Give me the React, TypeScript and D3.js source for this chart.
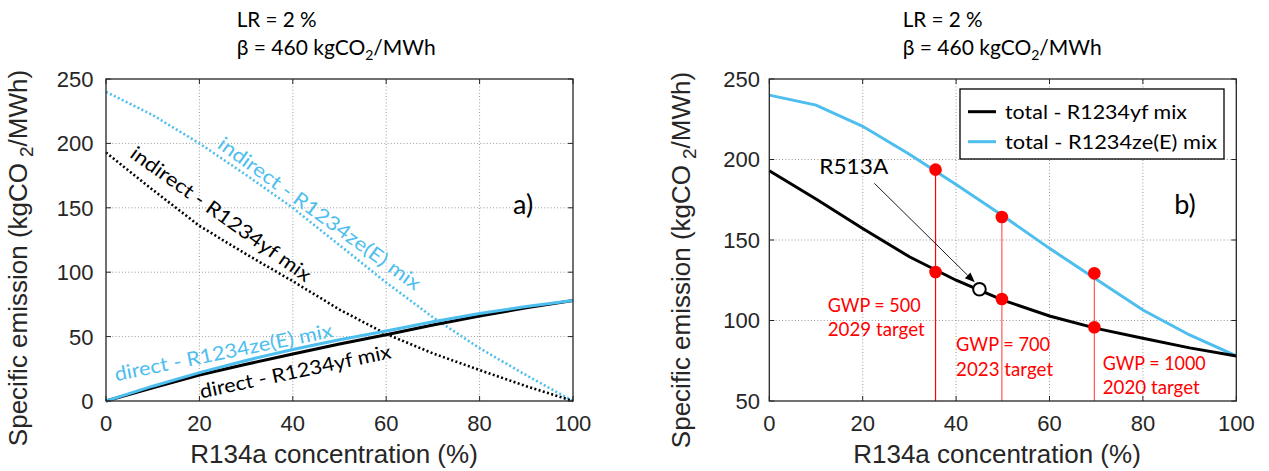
import React from "react";
import * as d3 from "d3";

// R134a share in the blend (%)
const conc = [0, 10, 20, 30, 40, 50, 60, 70, 80, 90, 100];

// Panel a) direct and indirect specific emission (kgCO2/MWh)
const directYf = [0, 10.3, 20.2, 28.5, 36.5, 44.2, 51.5, 59, 66, 72.3, 78];
const directZe = [0, 11.5, 22, 31.5, 40, 47.5, 54.3, 61.5, 68, 73.3, 78];
const indirectYf = [193, 164, 136, 114, 93, 71, 52, 37, 24, 11.5, 0];
const indirectZe = [240, 222, 200, 175.5, 150, 121, 92, 65, 41, 20, 0];

// Panel b) total specific emission (kgCO2/MWh)
const totalYf = [193, 175.5, 157.2, 139.6, 125, 112.7, 102.8, 95.1, 89, 83, 78];
const totalZe = [240, 233.8, 220.6, 203.3, 184.5, 165, 144.8, 125.6, 106.5, 91, 78];

// GWP regulatory limits: blend composition and emissions at that composition
const gwpConc = [35.6, 49.8, 69.6];
const gwpZe = [193.7, 164.3, 129.3];
const gwpYf = [130.1, 113.4, 95.8];
const gwpLabel = ["GWP = 500", "GWP = 700", "GWP = 1000"];
const gwpYear = ["2029 target", "2023 target", "2020 target"];
const gwpLabelPos = [
  [12.5, 105.5],
  [40.0, 81],
  [71.4, 69.3],
];
const gwpLabelW = [
  [93, 97],
  [94, 97],
  [103, 97],
];

// R513A reference blend
const r513aConc = 45;
const r513aValue = 119.4;

const xTicks = [0, 20, 40, 60, 80, 100];
const yTicksA = [0, 50, 100, 150, 200, 250];
const yTicksB = [50, 100, 150, 200, 250];

const BLUE = "#4DBEEE";
const AXIS = "#262626";
const GRID = "#9a9a9a";
const RED = "#ff0000";
const FONT_TXT = "Lato, 'Open Sans', sans-serif";
const FONT_AX = "'Liberation Sans', Arial, sans-serif";

type Scale = d3.ScaleLinear<number, number>;

function Grid({ x, y, yTicks }: { x: Scale; y: Scale; yTicks: number[] }) {
  const [x0, x1] = x.range();
  const [y0, y1] = y.range();
  return (
    <g>
      {xTicks.slice(1, -1).map((t) => (
        <line key={"gx" + t} x1={x(t)} x2={x(t)} y1={y0} y2={y1} stroke={GRID} strokeWidth={1} strokeDasharray="1 2.2" />
      ))}
      {yTicks.slice(1, -1).map((t) => (
        <line key={"gy" + t} x1={x0} x2={x1} y1={y(t)} y2={y(t)} stroke={GRID} strokeWidth={1} strokeDasharray="1 2.2" />
      ))}
    </g>
  );
}

function Box({ x, y, yTicks, tickRight, yLabelX, yLabelY, xLabelX }: { x: Scale; y: Scale; yTicks: number[]; tickRight: number; yLabelX: number; yLabelY: number; xLabelX: number }) {
  const [x0, x1] = x.range();
  const [y0, y1] = y.range();
  const tl = 5;
  return (
    <g>
      <rect x={x0} y={y1} width={x1 - x0} height={y0 - y1} fill="none" stroke={AXIS} strokeWidth={1.3} />
      {xTicks.map((t) => (
        <g key={"tx" + t}>
          <line x1={x(t)} x2={x(t)} y1={y0} y2={y0 - tl} stroke={AXIS} strokeWidth={1} />
          <line x1={x(t)} x2={x(t)} y1={y1} y2={y1 + tl} stroke={AXIS} strokeWidth={1} />
          <text x={x(t)} y={431} textAnchor="middle" fontFamily={FONT_AX} fontSize={22} fill={AXIS}>
            {t}
          </text>
        </g>
      ))}
      {yTicks.map((t) => (
        <g key={"ty" + t}>
          <line x1={x0} x2={x0 + tl} y1={y(t)} y2={y(t)} stroke={AXIS} strokeWidth={1} />
          <line x1={x1} x2={x1 - tl} y1={y(t)} y2={y(t)} stroke={AXIS} strokeWidth={1} />
          <text x={tickRight} y={y(t)} dy="0.36em" textAnchor="end" fontFamily={FONT_AX} fontSize={22} fill={AXIS}>
            {t}
          </text>
        </g>
      ))}
      <text x={xLabelX} y={463} textAnchor="middle" fontFamily={FONT_AX} fontSize={26} fill={AXIS}>
        R134a concentration (%)
      </text>
      <text transform={`translate(${yLabelX},${yLabelY}) rotate(-90)`} textAnchor="middle" fontFamily={FONT_AX} fontSize={26} fill={AXIS}>
        Specific emission (kgCO
        <tspan dx={6} dy={6} fontSize={19}>
          2
        </tspan>
        <tspan dy={-6}>/MWh)</tspan>
      </text>
    </g>
  );
}

function Title({ x }: { x: number }) {
  return (
    <g fontFamily={FONT_TXT} fill="#000">
      <text x={x} y={27} fontSize={21} textLength={80} lengthAdjust="spacingAndGlyphs">
        LR = 2 %
      </text>
      <text x={x} y={55} fontSize={21}>
        β = 460 kgCO
        <tspan fontSize={14} dy={5}>
          2
        </tspan>
        <tspan dy={-5}>/MWh</tspan>
      </text>
    </g>
  );
}

function RotLabel({ x, y, angle, text, color, len }: { x: number; y: number; angle: number; text: string; color: string; len: number }) {
  return (
    <text
      transform={`translate(${x},${y}) rotate(${angle})`}
      textAnchor="middle"
      dominantBaseline="central"
      fontFamily={FONT_TXT}
      fontSize={19.5}
      fill={color}
      textLength={len}
      lengthAdjust="spacingAndGlyphs"
    >
      {text}
    </text>
  );
}

export default function App() {
  const xA = d3.scaleLinear().domain([0, 100]).range([106, 573]);
  const yA = d3.scaleLinear().domain([0, 250]).range([401, 79]);
  const xB = d3.scaleLinear().domain([0, 100]).range([769.3, 1236.3]);
  const yB = d3.scaleLinear().domain([50, 250]).range([401, 79]);

  const lineA = (vals: number[]) =>
    d3
      .line<number>()
      .x((_, i) => xA(conc[i]))
      .y((v) => yA(v))(vals) || "";
  const lineB = (vals: number[]) =>
    d3
      .line<number>()
      .x((_, i) => xB(conc[i]))
      .y((v) => yB(v))(vals) || "";

  // arrow pointing at R513A
  const arrStart = [xB(22.5), yB(185.2)];
  const arrEnd = [xB(44.0), yB(123.7)];
  const ang = Math.atan2(arrEnd[1] - arrStart[1], arrEnd[0] - arrStart[0]);
  const headL = 10;
  const headW = 4;
  const hb = [arrEnd[0] - headL * Math.cos(ang), arrEnd[1] - headL * Math.sin(ang)];
  const head = [
    arrEnd,
    [hb[0] + headW * Math.sin(ang), hb[1] - headW * Math.cos(ang)],
    [hb[0] - headW * Math.sin(ang), hb[1] + headW * Math.cos(ang)],
  ];

  return (
    <svg width={1269} height={471} style={{ position: "absolute", left: 0, top: 0, background: "#fff" }}>
      <rect width={1269} height={471} fill="#fff" />

      {/* ---------- panel a ---------- */}
      <Grid x={xA} y={yA} yTicks={yTicksA} />
      <path d={lineA(indirectZe)} fill="none" stroke={BLUE} strokeWidth={2.6} strokeDasharray="2 2.4" />
      <path d={lineA(indirectYf)} fill="none" stroke="#000" strokeWidth={2.6} strokeDasharray="2 2.4" />
      <path d={lineA(directYf)} fill="none" stroke="#000" strokeWidth={3} />
      <path d={lineA(directZe)} fill="none" stroke={BLUE} strokeWidth={3} />
      <RotLabel x={xA(45.8)} y={yA(146)} angle={36} text="indirect - R1234ze(E) mix" color={BLUE} len={245} />
      <RotLabel x={xA(24.7)} y={yA(145.6)} angle={35.5} text="indirect - R1234yf mix" color="#000" len={217} />
      <RotLabel x={xA(25.1)} y={yA(38.3)} angle={-11.5} text="direct - R1234ze(E) mix" color={BLUE} len={222} />
      <RotLabel x={xA(40.5)} y={yA(23.4)} angle={-12} text="direct - R1234yf mix" color="#000" len={195} />
      <text x={xA(89.3)} y={yA(153.5)} dominantBaseline="central" textAnchor="middle" fontFamily={FONT_TXT} fontSize={27} fill="#000">
        a)
      </text>
      <Box x={xA} y={yA} yTicks={yTicksA} tickRight={93.5} yLabelX={27} yLabelY={258} xLabelX={334} />
      <Title x={236.7} />

      {/* ---------- panel b ---------- */}
      <Grid x={xB} y={yB} yTicks={yTicksB} />
      {gwpConc.map((c, i) => (
        <line key={"st" + i} x1={xB(c)} x2={xB(c)} y1={yB(gwpZe[i])} y2={yB(50)} stroke={RED} strokeWidth={1.2} opacity={i === 0 ? 1 : 0.65} />
      ))}
      <path d={lineB(totalZe)} fill="none" stroke={BLUE} strokeWidth={3} />
      <path d={lineB(totalYf)} fill="none" stroke="#000" strokeWidth={3} />
      {gwpConc.map((c, i) => (
        <g key={"dot" + i}>
          <circle cx={xB(c)} cy={yB(gwpZe[i])} r={6.3} fill={RED} />
          <circle cx={xB(c)} cy={yB(gwpYf[i])} r={6.3} fill={RED} />
        </g>
      ))}
      <circle cx={xB(r513aConc)} cy={yB(r513aValue)} r={6.3} fill="#fff" stroke="#000" strokeWidth={2} />
      <line x1={arrStart[0]} y1={arrStart[1]} x2={hb[0]} y2={hb[1]} stroke="#000" strokeWidth={0.9} />
      <polygon points={head.map((p) => p.join(",")).join(" ")} fill="#000" />
      <text x={xB(10.7)} y={yB(190.8)} fontFamily={FONT_TXT} fontSize={20.5} fill="#000" textLength={69} lengthAdjust="spacingAndGlyphs">
        R513A
      </text>
      <text x={xB(89)} y={yB(172.8)} dominantBaseline="central" textAnchor="middle" fontFamily={FONT_TXT} fontSize={27} fill="#000">
        b)
      </text>
      {gwpLabelPos.map(([cx, cy], i) => (
        <g key={"gl" + i} fontFamily={FONT_TXT} fontSize={18.5} fill={RED}>
          <text x={xB(cx)} y={yB(cy)} textLength={gwpLabelW[i][0]} lengthAdjust="spacingAndGlyphs">
            {gwpLabel[i]}
          </text>
          <text x={xB(cx)} y={yB(cy) + 24.5} textLength={gwpLabelW[i][1]} lengthAdjust="spacingAndGlyphs">
            {gwpYear[i]}
          </text>
        </g>
      ))}
      {/* legend */}
      <g>
        <rect x={960} y={89} width={264} height={70} fill="#fff" stroke="#000" strokeWidth={1.3} />
        <line x1={968} x2={996} y1={111.7} y2={111.7} stroke="#000" strokeWidth={3} />
        <line x1={968} x2={996} y1={141.7} y2={141.7} stroke={BLUE} strokeWidth={3} />
        <text x={1005} y={119} fontFamily={FONT_TXT} fontSize={18.5} fill="#000" textLength={182} lengthAdjust="spacingAndGlyphs">
          total - R1234yf mix
        </text>
        <text x={1005} y={149} fontFamily={FONT_TXT} fontSize={18.5} fill="#000" textLength={212} lengthAdjust="spacingAndGlyphs">
          total - R1234ze(E) mix
        </text>
      </g>
      <Box x={xB} y={yB} yTicks={yTicksB} tickRight={760} yLabelX={690} yLabelY={260} xLabelX={997} />
      <Title x={902.7} />
    </svg>
  );
}
